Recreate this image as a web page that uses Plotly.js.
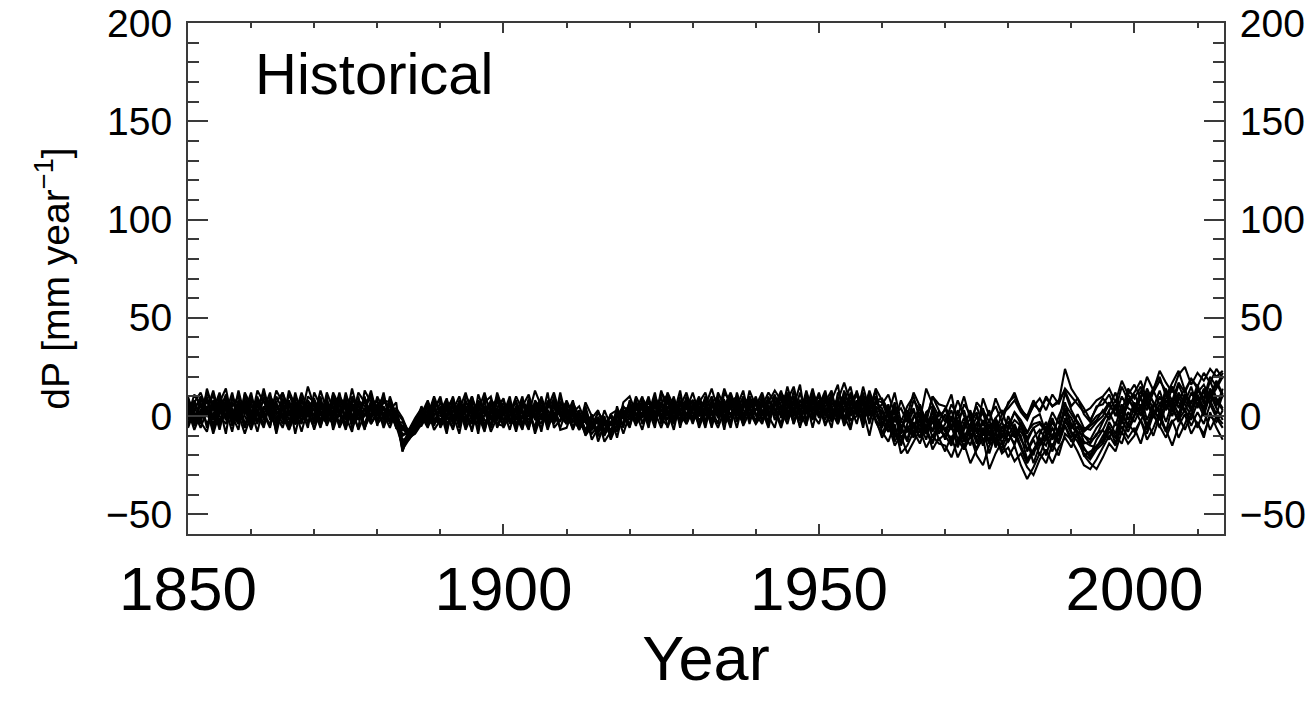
<!DOCTYPE html>
<html>
<head>
<meta charset="utf-8">
<script src="https://cdn.plot.ly/plotly-3.0.1.min.js"></script>
<style>
  html, body { margin: 0; padding: 0; background: #ffffff; }
  #chart { width: 1312px; height: 708px; }
</style>
</head>
<body>
<div id="chart"></div>
<script>
// ---- data: annual dP (mm/year), ensemble members, 1850-2014 ----
const firstYear = 1850;
const lastYear = 2014;

const run01 = [6,-4,9,2,-7,11,3,-2,13,0, -6,7,3,12,-4,1,8,-9,5,3, 0,10,-5,3,7,-2,14,1,-4,5, 8,-2,3,-6,-9,-9,-3,2,5,-5, 3,-9,7,1,-4,10,0,-6,5,8, -2,3,-8,5,11,0,-4,7,1,-6, 3,-2,-6,2,-3,-8,3,-5,3,-1, 7,0,5,-6,10,3,-2,8,0,5, -4,7,12,1,-6,3,9,-2,5,10, 0,7,-4,10,5,-2,13,3,8,-6, 7,1,12,-4,5,10,0,15,3,-2, -6,4,-9,-13,-4,3,-8,0,-11,-3, -12,-4,-16,-7,-1,-13,-6,-19,-9,-3, -10,-4,-12,-17,-11,-7,-12,-3,-9,4, -4,-9,-14,-13,-10,-3,3,8,-1,6, 11,4,14,7,1,12,5,16,8,3, 14,7,18,9,4];
const run02 = [-2,7,0,12,5,-6,9,1,-4,10, 3,-8,5,0,13,7,-2,3,10,-4, 8,1,-4,12,5,0,-8,7,3,13, 0,5,-2,1,-6,-10,-7,0,-4,7, -6,1,10,-4,5,-2,8,3,-8,0, 7,-4,1,10,-6,3,8,-2,5,0, -4,7,0,-7,-1,3,-8,-3,0,5, 1,8,-4,3,7,-2,12,5,-4,1, 8,0,5,14,3,-2,7,10,0,3, 10,-2,5,1,12,7,-4,8,3,14, 1,8,5,-2,13,3,7,-6,10,5, 2,-3,6,-11,-7,-1,4,-6,2,-9, -4,3,-8,-1,-11,-4,2,-10,-3,-14, -6,2,-2,-8,-4,-3,-7,2,-4,12, 3,-3,-7,-4,0,2,7,0,10,4, 2,9,3,13,6,-3,7,1,11,4, 9,2,13,6,10];
const run03 = [9,1,-6,3,13,0,-4,7,1,-9, 0,10,-2,5,-8,12,3,-4,8,1, -6,3,8,-2,0,10,5,-7,1,7, 3,-4,10,0,-17,-12,-8,-2,3,0, 7,0,-6,8,1,-7,3,12,0,-4, 1,8,-4,0,5,-9,1,3,-2,10, 0,-6,3,-9,-4,-1,-13,-8,-5,1, -4,5,1,10,-2,7,3,-7,8,0, 5,-2,1,7,10,-4,0,5,13,-2, 3,8,0,-6,7,12,1,-2,5,8, 10,-4,1,7,0,-7,8,3,-10,5, -8,-13,-4,-19,-15,-8,-14,-5,-17,-11, -18,-10,-21,-14,-24,-17,-11,-27,-19,-13, -21,-15,-25,-32,-26,-19,-24,-14,-20,-9, -12,-18,-25,-27,-22,-16,-10,-15,-5,-11, -6,-14,-3,-10,0,-7,-15,-5,1,-9, -3,-11,2,-6,-12];
const run04 = [0,11,5,-4,1,7,14,-2,5,3, 10,1,-6,7,3,-4,13,5,0,8, 3,-6,7,1,10,5,-2,12,7,0, 5,10,0,-4,-3,-11,-9,-4,7,1, 0,7,-4,3,12,1,-6,7,10,-2, 5,0,8,-4,1,13,5,-7,3,7, 1,5,-4,3,-6,2,-3,-9,-2,-4, 5,-2,8,3,-6,12,7,1,13,-4, 3,10,-4,7,1,14,5,-6,8,3, -2,5,12,7,0,10,5,16,-4,7, 5,13,-2,8,17,7,3,10,1,14, 8,1,12,-3,5,10,-2,14,6,0, 3,11,-5,6,1,-8,9,0,5,-3, 7,10,4,-1,5,9,3,11,6,14, 10,6,2,4,8,10,14,7,18,11, 16,9,20,13,23,17,12,21,25,16, 22,18,24,20,23];
const run05 = [3,-7,1,8,-2,5,-9,10,3,7, -4,5,12,-2,3,8,-6,7,1,15, 5,-2,3,8,-6,1,7,0,10,-4, 1,7,5,-2,-14,-8,-5,5,-2,3, 10,-4,1,-9,7,3,-2,0,8,5, -6,1,10,3,-2,5,-8,8,0,3, 7,0,-7,1,-12,-6,-4,0,-11,3, 0,3,10,-2,5,0,8,-4,5,12, 1,5,-6,8,3,7,-4,12,1,5, 7,0,8,3,-6,5,10,0,13,1, -4,7,10,1,-2,12,5,8,0,7, 4,-6,0,-9,3,-5,-11,1,-8,-2, -8,0,-12,-6,3,-9,-2,-14,-5,-11, 0,-8,-8,-13,-6,-15,-5,-11,0,7, -6,-3,-10,-14,-9,-7,0,4,-4,9, 3,13,6,0,10,4,15,7,2,12, 6,14,8,1,11];
const run06 = [-6,3,10,0,7,-4,1,12,-2,5, 7,-2,1,8,-9,5,0,10,3,-6, 12,5,0,-4,8,3,1,-6,13,7, -4,0,8,1,-7,-8,-2,3,0,10, 1,5,-2,7,-6,8,3,-4,1,10, 0,7,-2,8,3,-6,10,0,-4,5, -2,3,-6,7,0,-9,-2,-11,5,-6, 8,-4,0,7,1,10,-6,3,7,1, 0,3,8,-4,12,5,1,7,-2,13, 5,12,1,7,3,-4,8,5,10,0, 8,3,-6,12,7,1,13,-2,5,10, -2,6,-8,-5,-12,0,-3,-9,4,-6, 1,-6,-3,-13,-8,0,-10,-4,-16,-9, -13,-6,-10,-22,-17,-12,-15,-6,-13,-2, -9,-13,-19,-22,-17,-14,-8,-11,0,-4, 4,-3,7,1,-6,6,0,10,3,-2, 7,0,11,4,-2];
const run07 = [7,0,-4,14,3,8,-2,5,10,-4, 1,8,0,-4,7,12,1,-2,7,5, -2,8,1,5,-4,12,0,3,-7,8, 7,1,-6,3,-10,-8,-6,-5,1,-4, 5,-2,8,0,-2,5,-9,10,3,1, -4,5,0,-7,8,1,3,-4,10,1, 5,-6,1,-7,-4,-10,-7,1,-4,0, -6,7,3,1,12,-4,5,0,3,8, 7,-6,3,10,0,5,12,3,-4,7, 1,-4,7,13,8,3,0,12,1,10, 3,12,0,5,10,-6,8,1,13,3, 6,11,1,4,-3,8,3,-2,10,3, -3,6,0,10,-2,5,-5,3,-8,1, 4,8,2,-2,6,3,9,5,7,24, 14,9,1,-3,5,6,11,3,15,8, 12,18,8,14,20,10,17,23,13,19, 15,22,17,24,19];
const run08 = [1,8,-2,5,-6,3,10,0,-7,12, 5,0,14,1,-2,3,7,0,-4,10, 7,0,10,-7,3,-4,8,5,1,-2, 10,3,1,0,-18,-7,-6,1,8,-2, -4,8,0,5,-7,1,7,-2,-4,12, 3,-7,5,1,0,7,-2,12,-6,-2, 8,1,-7,-1,-3,-2,-8,1,3,0, 3,-2,7,-4,8,5,0,10,-6,7, -2,8,0,5,7,-7,10,1,7,0, 8,3,-6,8,1,15,3,-2,7,5, 0,5,8,16,-4,7,12,5,8,-2, -11,-4,-15,-10,-19,-13,-7,-16,-10,-14, -15,-21,-12,-17,-10,-20,-25,-15,-11,-19, -16,-23,-19,-26,-30,-22,-17,-24,-16,-11, -16,-8,-20,-24,-27,-21,-14,-18,-8,-14, -10,-2,-12,-6,2,-8,-2,-11,-4,4, -6,3,-7,0,-4];
const run09 = [-4,5,7,-6,8,1,5,-4,8,2, -2,13,7,3,0,-6,5,8,-2,0, 1,7,-2,10,0,7,-4,8,5,3, -2,8,7,-6,-5,-12,-4,0,-6,5, 8,-7,3,10,0,-4,5,1,7,-6, 1,10,-6,7,-4,3,0,5,8,-7, -6,3,-2,-9,1,-13,-4,-8,-7,7, 10,1,-7,5,0,3,7,-2,10,3, 12,1,7,-2,5,8,0,3,10,5, -4,8,5,0,10,1,7,-6,12,3, 12,0,7,3,8,15,1,7,5,10, 0,-8,-2,-6,-13,-3,-11,-5,-1,-12, -9,-2,-7,-16,-5,-11,-3,-9,-14,-6, -3,-11,-4,-13,-20,-9,-3,-12,-7,3, -1,-8,-10,-12,-6,-2,2,-5,6,-2, 7,0,11,3,-2,8,3,12,6,0, 11,4,14,8,3];
const run10 = [10,-2,3,0,5,-7,7,3,-2,8, 0,3,-4,10,5,0,-7,1,12,3, 3,-4,5,0,12,-2,3,10,-6,1, 5,-6,3,7,-18,-8,-5,-2,3,-7, -2,3,5,-2,8,0,-4,5,-2,7, 8,-2,3,-4,7,-2,5,1,-4,12, -2,0,-4,5,-7,-2,-9,-4,1,-9, 1,5,0,8,-4,7,1,5,-2,10, 3,7,-2,1,8,3,-6,10,3,0, 7,1,10,-2,5,8,15,1,-2,12, 5,-2,10,3,7,0,5,12,-4,8, 9,3,-3,8,0,12,5,-3,10,6, 5,-2,8,0,-6,7,3,-3,9,1, 6,12,3,0,8,2,10,5,8,13, 5,9,4,-2,4,9,5,12,2,14, 9,15,5,12,18,13,8,17,12,19, 14,9,20,15,22];
const run11 = [-2,7,12,3,-4,5,0,8,7,-6, 8,5,1,-6,10,3,8,-2,3,7, 0,13,3,5,1,8,-6,1,7,10, 3,1,7,-4,-12,-11,-8,3,-4,1, 3,1,-7,5,3,10,-2,8,-6,3, -2,3,7,-6,5,0,8,-4,7,1, 3,-7,1,-3,-7,-1,-4,-3,0,3, -2,10,3,0,5,-2,10,3,1,-4, 5,0,10,3,-4,12,7,0,5,8, 3,10,0,5,13,-2,3,8,5,-2, 7,10,3,0,12,5,-4,10,7,1, -5,2,-11,-2,-8,-6,2,-9,-3,-8, -6,-14,-2,-9,-15,-3,-8,-12,-2,-11, -8,-15,-3,-18,-12,-20,-11,-18,-9,-5, -11,-5,-13,-15,-16,-10,-5,-14,-2,-8, 0,6,-5,4,13,3,9,0,7,15, 4,13,6,17,10];
const run12 = [5,1,0,8,3,12,-2,3,0,5, -7,3,8,0,5,1,-4,12,0,1, 8,1,-2,7,3,-6,10,3,0,5, 0,12,-4,1,-14,-12,-7,-4,0,3, -2,0,5,-6,10,5,1,-7,3,-2, 3,5,-4,0,-7,8,3,1,-2,5, 0,8,-6,-2,-4,-7,0,-12,-4,1, 5,0,7,1,-2,13,3,-4,7,5, 8,3,-2,5,1,0,8,5,-4,10, 0,5,8,3,1,7,-2,3,8,7, 1,7,13,-2,3,8,1,0,12,3, -3,-8,4,-15,-6,-11,-2,-8,-14,-5, -11,-5,-15,-3,-9,-17,-6,-14,-8,-18, -12,-9,-17,-24,-18,-14,-9,-16,-6,2, -8,-11,-20,-18,-16,-12,-3,-9,3,-6, 1,10,-2,6,3,14,4,-3,10,6, 16,6,10,18,11];
const run13 = [4,-5,2,10,-1,6,3,-8,7,2, 12,-3,4,1,-6,9,2,5,-3,8, -4,6,0,11,3,-7,5,2,9,-1, 6,0,-3,2,-2,-8,-6,1,-3,8, 2,9,-3,1,5,-8,11,2,-1,4, 9,-3,5,2,-5,6,-1,4,12,0, 1,5,-3,-8,-1,-4,-10,-3,-8,2, 3,-5,9,4,-1,6,11,-3,2,6, -1,9,4,-5,6,2,11,-3,4,9, 6,-3,3,11,-1,4,8,2,-5,11, 4,9,-3,6,2,11,4,-4,9,2, 3,-4,7,-6,1,-9,6,-3,-7,2, -1,-7,3,-11,-4,2,-13,-6,-1,-8, -5,2,-4,-9,-1,1,-9,-3,-8,6, 1,-4,-8,-5,-2,3,-2,6,-4,8, 5,1,9,-1,6,11,2,8,14,4, 9,3,12,5,14];
const run14 = [-5,4,-1,3,11,-3,6,1,4,-6, 3,-4,10,4,-2,6,-7,3,9,0, 6,-5,3,-1,9,4,-3,6,-6,4, -3,4,1,-5,-15,-10,-4,-1,5,-3, 4,-5,2,7,-3,4,1,-8,6,1, -4,6,2,-5,9,-1,-6,3,-3,6, 4,-3,1,-10,-5,-8,-3,-9,2,-1, -5,4,-1,8,2,-6,4,9,1,-3, 6,2,-4,8,-1,6,-3,4,9,-4, 9,2,-3,6,4,11,-4,6,3,-1, 6,-5,4,9,-1,5,11,-2,4,13, -4,1,-13,-7,3,-10,-4,-12,0,-7, -10,-15,-5,-12,-4,-14,-9,-2,-13,-16, -9,-14,-6,-12,-24,-15,-10,-6,-13,-1, -5,-9,-17,-20,-12,-7,-12,-3,-9,2, -3,4,-7,3,-1,-8,5,-2,3,-5, 2,-4,6,-1,-6];
const run15 = [8,2,-3,-8,6,9,-1,4,-4,11, -1,6,2,-5,7,-2,11,3,-8,4, 9,-3,12,4,-5,2,6,-2,3,11, -5,9,2,4,-1,-9,-6,-2,-1,6, -5,4,9,-1,2,6,-3,4,-6,9, 4,-2,-5,7,1,4,9,-6,2,-3, 6,3,-2,-1,-5,2,-3,-7,-1,4, 4,6,-3,2,9,-1,-5,6,-3,9, -3,4,8,-6,9,-1,4,7,-2,4, -3,6,2,4,-4,8,10,-1,5,2, 11,3,-2,7,-5,3,6,9,-3,8, 7,-1,3,-6,-1,4,-8,2,5,-3, 4,-5,-1,3,-8,-4,4,-9,-1,3, -7,-2,-5,-11,-6,-4,-8,-1,-10,-3, -6,1,-6,-7,-3,0,6,1,-2,11, 6,3,12,7,2,9,15,4,11,7, 12,16,9,14,20];
const run16 = [1,-3,6,4,-9,2,11,-5,2,6, -3,2,-5,9,1,4,6,-4,-2,5, -7,4,6,-5,2,9,-3,-1,4,-4, 3,-4,6,-1,-6,-7,-1,4,-5,-1, -3,6,-4,2,-1,-3,6,-5,4,-4, -5,0,4,-1,2,-7,4,-3,7,3, -4,2,5,-3,-9,-5,-2,-4,-6,-3, 6,-3,1,-4,6,1,-1,2,6,-1, 2,-4,5,1,3,-3,5,9,-5,2, -4,1,-2,6,9,0,4,-5,2,9, -1,4,2,-4,9,-2,0,4,11,-3, -9,-2,-6,-14,-5,-10,-1,-7,-13,-4, -7,-12,-4,-17,-10,-6,-15,-8,-12,-5, -13,-7,-15,-23,-18,-11,-20,-9,-14,-5, -13,-8,-16,-21,-15,-13,-6,-10,-14,-4, -8,-2,-9,1,-5,-11,-3,0,-7,1, -4,-9,0,-3,3];

const runs = [run01, run02, run03, run04, run05, run06, run07, run08,
              run09, run10, run11, run12, run13, run14, run15, run16];

const yTicks = [-50, 0, 50, 100, 150, 200];
const xTicks = [1850, 1900, 1950, 2000];

// ---- figure ----
const years = [];
for (let y = firstYear; y <= lastYear; y++) years.push(y);

const FONT = "'Liberation Sans', Arial, Helvetica, sans-serif";
const AXC = '#3a3a3a';

const traces = runs.map((r, i) => ({
  x: years,
  y: r,
  type: 'scatter',
  mode: 'lines',
  yaxis: i % 2 === 0 ? 'y' : 'y2',
  line: { color: '#000000', width: 2.1 },
  hoverinfo: 'skip',
  showlegend: false
}));

const yCommon = {
  range: [-60, 200],
  tickmode: 'array',
  tickvals: yTicks,
  ticktext: yTicks.map(v => v < 0 ? '\u2212' + Math.abs(v) : String(v)),
  ticks: 'inside',
  ticklen: 20,
  tickwidth: 2,
  tickcolor: AXC,
  showline: true,
  linewidth: 2,
  linecolor: AXC,
  showgrid: false,
  zeroline: false,
  ticklabeloverflow: 'allow',
  tickfont: { family: FONT, size: 39, color: '#000' },
  minor: { ticks: 'inside', dtick: 10, tick0: 0, ticklen: 11, tickwidth: 2, tickcolor: AXC, showgrid: false },
  fixedrange: true
};

const layout = {
  width: 1312,
  height: 708,
  margin: { l: 188, r: 88, t: 23, b: 174, pad: 0 },
  paper_bgcolor: '#ffffff',
  plot_bgcolor: '#ffffff',
  showlegend: false,
  xaxis: {
    range: [1850, 2014.2],
    tickmode: 'array',
    tickvals: xTicks,
    ticktext: xTicks.map(String),
    ticks: 'inside',
    ticklen: 10,
    tickwidth: 2,
    tickcolor: AXC,
    showline: true,
    linewidth: 2,
    linecolor: AXC,
    mirror: 'ticks',
    showgrid: false,
    zeroline: false,
    tickfont: { family: FONT, size: 62, color: '#000' },
    ticklabelstandoff: 0,
    minor: { ticks: 'inside', dtick: 10, tick0: 1850, ticklen: 5, tickwidth: 2, tickcolor: AXC, showgrid: false },
    title: { text: 'Year', font: { family: FONT, size: 63, color: '#000' }, standoff: 8 },
    fixedrange: true
  },
  yaxis: Object.assign({}, yCommon, {
    side: 'left',
    ticklabelstandoff: 6,
    title: { text: 'dP [mm year<sup>\u22121</sup>]', font: { family: FONT, size: 39, color: '#000' }, standoff: 24 }
  }),
  yaxis2: Object.assign({}, yCommon, {
    side: 'right',
    overlaying: 'y',
    matches: 'y',
    ticklabelstandoff: 6
  }),
  annotations: [{
    text: 'Historical',
    xref: 'paper', yref: 'paper',
    x: 0.063, y: 0.902,
    xanchor: 'left', yanchor: 'middle',
    showarrow: false,
    font: { family: FONT, size: 58, color: '#000' }
  }]
};

Plotly.newPlot('chart', traces, layout, { displayModeBar: false, staticPlot: true });
</script>
</body>
</html>
